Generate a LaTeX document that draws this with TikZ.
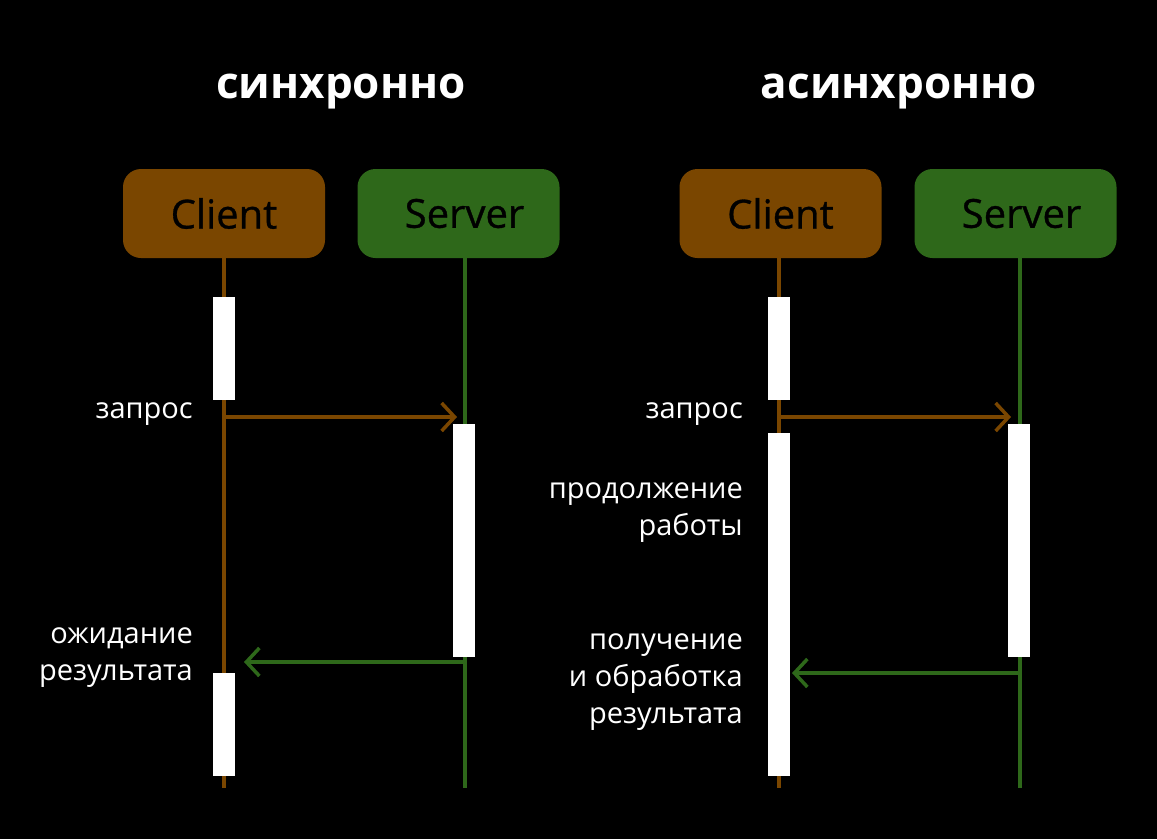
\documentclass[tikz,border=0pt]{standalone}
\usepackage{fontspec}
\setmainfont{Open Sans}
\newfontfamily\medfont[FakeBold=0.8]{Open Sans}
\definecolor{brown}{RGB}{122, 70, 0}
\definecolor{green}{RGB}{46, 104, 26}
\usetikzlibrary{arrows.meta}
\usetikzlibrary{positioning}
\tikzset{
  actor/.style={rounded corners=18pt, minimum width=202pt, minimum height=89pt,
    inner sep=0, text=black, font=\medfont\fontsize{40}{46}\selectfont},
  client/.style={actor, fill=brown},
  server/.style={actor, fill=green},
  life/.style={line width=3.5pt},
  bar/.style={fill=white, minimum width=22pt, inner sep=0, anchor=north},
  title/.style={text=white, anchor=base, font=\fontsize{44}{50}\selectfont\bfseries},
  note/.style={text=white, anchor=base east, align=right, inner sep=0,
    font=\fontsize{29}{37}\selectfont},
  arrow/.style={-{Straight Barb[length=13pt,width=28pt]}, line width=3.5pt}
}
\begin{document}
\begin{tikzpicture}[x=1pt, y=-1pt]
  \useasboundingbox[fill=black] (0,0) rectangle (1157,839);
  % titles
  \node[title] (sync) at (341,98) {синхронно};
  \node[title] (async) at (899,98) {асинхронно};
  % actors
  \node[client] (cl1) at (224,213.5) {Client};
  \node[server] (sv1) at (458.5,213.5) {\hspace{12pt}Server};
  \node[client] (cl2) at (780.5,213.5) {Client};
  \node[server] (sv2) at (1015.5,213.5) {\hspace{12pt}Server};
  % lifelines
  \coordinate (cl1end) at (224,788);
  \coordinate (sv1end) at (465,788);
  \coordinate (cl2end) at (779,788);
  \coordinate (sv2end) at (1020,788);
  \draw[life, brown] (cl1end |- cl1.south) -- (cl1end);
  \draw[life, green] (sv1end |- sv1.south) -- (sv1end);
  \draw[life, brown] (cl2end |- cl2.south) -- (cl2end);
  \draw[life, green] (sv2end |- sv2.south) -- (sv2end);
  % activations
  \node[bar, minimum height=103pt] (a1) at (224,297) {};
  \node[bar, minimum height=233pt] (a2) at (464,424) {};
  \node[bar, minimum height=103pt] (a3) at (224,673) {};
  \node[bar, minimum height=103pt] (b1) at (779,297) {};
  \node[bar, minimum height=343pt] (b2) at (779,433) {};
  \node[bar, minimum height=233pt] (b3) at (1019,424) {};
  % messages
  \coordinate (req1) at (224,417);
  \coordinate (req1end) at (457,417);
  \coordinate (res1) at (465,662);
  \coordinate (res1end) at (244,662);
  \coordinate (req2) at (779,417);
  \coordinate (req2end) at (1011,417);
  \coordinate (res2) at (1020,673);
  \coordinate (res2end) at (792,673);
  \draw[arrow, brown] (req1) -- (req1end);
  \draw[arrow, green] (res1) -- (res1end);
  \draw[arrow, brown] (req2) -- (req2end);
  \draw[arrow, green] (res2) -- (res2end);
  % notes
  \node[note] (n1) at (193,418) {запрос};
  \node[note] (n2) at (193,680) {ожидание\\результата};
  \node[note] (n3) at (743,418) {запрос};
  \node[note] (n4) at (743,535) {продолжение\\работы};
  \node[note] (n5) at (743,723) {получение\\и обработка\\результата};
\end{tikzpicture}
\end{document}
